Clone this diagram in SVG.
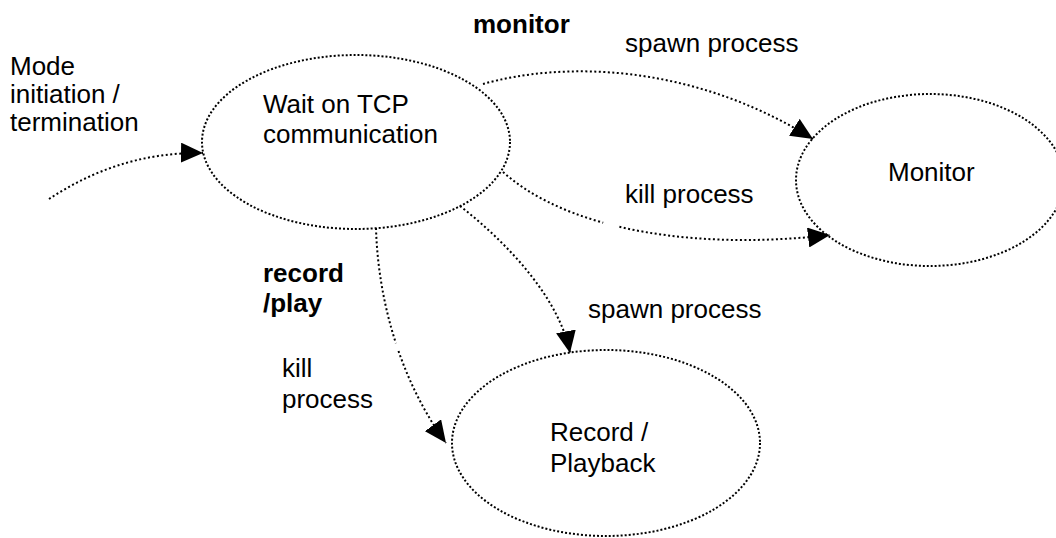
<svg xmlns="http://www.w3.org/2000/svg" width="1056" height="538" viewBox="0 0 1056 538">
  <style>
    .lbl { font-family: "Liberation Sans", Arial, sans-serif; font-size: 26px; fill: #000; }
    .bold { font-weight: bold; }
    .state { fill: none; stroke: #000; stroke-width: 2; stroke-dasharray: 2 2; }
    .edge { fill: none; stroke: #000; stroke-width: 2; stroke-dasharray: 2 2.5; }
  </style>
  <defs>
    <marker id="ah" markerWidth="22" markerHeight="20" refX="22" refY="10" orient="auto" markerUnits="userSpaceOnUse">
      <path d="M0,0 L22,10 L0,20 z" fill="#000"/>
    </marker>
  </defs>
  <rect width="1056" height="538" fill="#fff"/>

  <!-- states -->
  <g id="wait">
    <ellipse class="state" cx="356" cy="142" rx="154" ry="87"/>
    <text class="lbl" x="263" y="113">Wait on TCP</text>
    <text class="lbl" x="263" y="143">communication</text>
  </g>
  <g id="monitor">
    <ellipse class="state" cx="930" cy="180" rx="134" ry="86"/>
    <text class="lbl" x="888" y="181">Monitor</text>
  </g>
  <g id="record">
    <ellipse class="state" cx="606" cy="443" rx="154" ry="93"/>
    <text class="lbl" x="550" y="441">Record /</text>
    <text class="lbl" x="550" y="472">Playback</text>
  </g>

  <!-- transitions (two of them drawn in two pieces, with a short break) -->
  <g id="connectors">
    <path class="edge" d="M49,199 C90,172 140,152 203,153" marker-end="url(#ah)"/>
    <path class="edge" d="M483,84 C560,62 690,62 813,139" marker-end="url(#ah)"/>
    <path class="edge" d="M503,172 C528.46,194.8 563,211.5 603.2,222.7"/>
    <path class="edge" d="M619.4,226.8 C681.8,241.4 755.9,243.55 830,235" marker-end="url(#ah)"/>
    <path class="edge" d="M460,206 C510,245 560,300 570,353" marker-end="url(#ah)"/>
    <path class="edge" d="M376,228 C377.04,265.44 383.49,305.04 395.9,343.3"/>
    <path class="edge" d="M398.49,351 C409.81,383.57 425.53,414.97 446,443" marker-end="url(#ah)"/>
  </g>

  <!-- labels -->
  <g id="labels">
    <text class="lbl" x="10" y="75">Mode</text>
    <text class="lbl" x="10" y="103">initiation /</text>
    <text class="lbl" x="10" y="131">termination</text>
    <text class="lbl bold" x="473" y="33">monitor</text>
    <text class="lbl" x="625" y="52">spawn process</text>
    <text class="lbl" x="625" y="203">kill process</text>
    <text class="lbl bold" x="263" y="282">record</text>
    <text class="lbl bold" x="263" y="312">/play</text>
    <text class="lbl" x="282" y="377">kill</text>
    <text class="lbl" x="282" y="408">process</text>
    <text class="lbl" x="588" y="318">spawn process</text>
  </g>
</svg>
